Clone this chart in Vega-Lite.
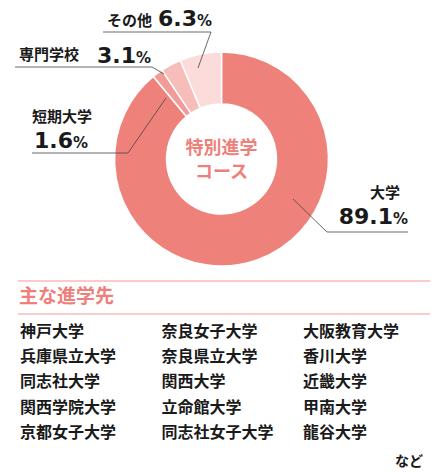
{
  "$schema": "https://vega.github.io/schema/vega-lite/v6.json",
  "width": 442,
  "height": 472,
  "padding": 0,
  "autosize": {"type": "none"},
  "background": "white",
  "config": {"view": {"stroke": null}, "font": "Noto Sans CJK JP"},
  "datasets": {
    "slices": [
      {"cat": "大学", "pct": 89.1},
      {"cat": "短期大学", "pct": 1.6},
      {"cat": "専門学校", "pct": 3.1},
      {"cat": "その他", "pct": 6.3}
    ],
    "schools": [
      {"name": "神戸大学", "col": 0, "row": 0},
      {"name": "兵庫県立大学", "col": 0, "row": 1},
      {"name": "同志社大学", "col": 0, "row": 2},
      {"name": "関西学院大学", "col": 0, "row": 3},
      {"name": "京都女子大学", "col": 0, "row": 4},
      {"name": "奈良女子大学", "col": 1, "row": 0},
      {"name": "奈良県立大学", "col": 1, "row": 1},
      {"name": "関西大学", "col": 1, "row": 2},
      {"name": "立命館大学", "col": 1, "row": 3},
      {"name": "同志社女子大学", "col": 1, "row": 4},
      {"name": "大阪教育大学", "col": 2, "row": 0},
      {"name": "香川大学", "col": 2, "row": 1},
      {"name": "近畿大学", "col": 2, "row": 2},
      {"name": "甲南大学", "col": 2, "row": 3},
      {"name": "龍谷大学", "col": 2, "row": 4}
    ]
  },
  "layer": [
    {
      "data": {"name": "slices"},
      "layer": [
        {
          "transform": [{"window": [{"op": "row_number", "as": "idx"}]}],
          "mark": {"type": "arc", "radius": 107, "innerRadius": 55, "stroke": "white", "strokeWidth": 1.5},
          "encoding": {
            "x": {"datum": 221.5, "type": "quantitative", "scale": {"domain": [0, 442], "nice": false, "zero": false}, "axis": null},
            "y": {"datum": 159, "type": "quantitative", "scale": {"domain": [0, 472], "nice": false, "zero": false, "reverse": true}, "axis": null},
            "theta": {"field": "pct", "type": "quantitative", "stack": true},
            "order": {"field": "idx", "type": "quantitative", "sort": "ascending"},
            "color": {
              "field": "cat", "type": "nominal",
              "scale": {"domain": ["大学", "短期大学", "専門学校", "その他"], "range": ["#ef817b", "#f29c98", "#f6bdbb", "#fbdcdb"]},
              "legend": null
            }
          }
        },
        {
          "data": {"values": [{}]},
          "mark": {"type": "text", "text": "特別進学", "align": "center", "baseline": "middle", "fontSize": 18, "fontWeight": "bold", "color": "#ef7f7a"},
          "encoding": {"x": {"datum": 221.5}, "y": {"datum": 149}}
        },
        {
          "data": {"values": [{}]},
          "mark": {"type": "text", "text": "コース", "align": "center", "baseline": "middle", "fontSize": 18, "fontWeight": "bold", "color": "#ef7f7a"},
          "encoding": {"x": {"datum": 221.5}, "y": {"datum": 173}}
        },
        {
          "transform": [{"filter": "datum.cat === '大学'"}],
          "layer": [
            {"mark": {"type": "text", "align": "center", "baseline": "middle", "fontSize": 15, "fontWeight": "bold", "color": "#1a1a1a"},
             "encoding": {"x": {"datum": 385}, "y": {"datum": 193}, "text": {"field": "cat"}}},
            {"mark": {"type": "text", "align": "right", "baseline": "alphabetic", "font": "DejaVu Sans", "fontSize": 22, "fontWeight": "bold", "color": "#1a1a1a"},
             "encoding": {"x": {"datum": 393}, "y": {"datum": 224}, "text": {"field": "pct", "type": "quantitative", "format": ".1f"}}},
            {"mark": {"type": "text", "text": "%", "align": "left", "baseline": "alphabetic", "font": "DejaVu Sans", "fontSize": 15, "fontWeight": "bold", "color": "#1a1a1a"},
             "encoding": {"x": {"datum": 393}, "y": {"datum": 224}}},
            {"mark": {"type": "rule", "color": "#444", "strokeWidth": 0.8},
             "encoding": {"x": {"datum": 327}, "x2": {"datum": 408}, "y": {"datum": 232}, "y2": {"datum": 232}}},
            {"mark": {"type": "rule", "color": "#444", "strokeWidth": 0.8},
             "encoding": {"x": {"datum": 293}, "x2": {"datum": 327}, "y": {"datum": 199}, "y2": {"datum": 232}}}
          ]
        },
        {
          "transform": [{"filter": "datum.cat === '短期大学'"}],
          "layer": [
            {"mark": {"type": "text", "align": "left", "baseline": "middle", "fontSize": 15, "fontWeight": "bold", "color": "#1a1a1a"},
             "encoding": {"x": {"datum": 32}, "y": {"datum": 117}, "text": {"field": "cat"}}},
            {"mark": {"type": "text", "align": "right", "baseline": "alphabetic", "font": "DejaVu Sans", "fontSize": 22, "fontWeight": "bold", "color": "#1a1a1a"},
             "encoding": {"x": {"datum": 73}, "y": {"datum": 148}, "text": {"field": "pct", "type": "quantitative", "format": ".1f"}}},
            {"mark": {"type": "text", "text": "%", "align": "left", "baseline": "alphabetic", "font": "DejaVu Sans", "fontSize": 15, "fontWeight": "bold", "color": "#1a1a1a"},
             "encoding": {"x": {"datum": 73}, "y": {"datum": 148}}},
            {"mark": {"type": "rule", "color": "#444", "strokeWidth": 0.8},
             "encoding": {"x": {"datum": 32}, "x2": {"datum": 128}, "y": {"datum": 153}, "y2": {"datum": 153}}},
            {"mark": {"type": "rule", "color": "#444", "strokeWidth": 0.8},
             "encoding": {"x": {"datum": 128}, "x2": {"datum": 166}, "y": {"datum": 153}, "y2": {"datum": 98}}}
          ]
        },
        {
          "transform": [{"filter": "datum.cat === '専門学校'"}],
          "layer": [
            {"mark": {"type": "text", "align": "left", "baseline": "middle", "fontSize": 15, "fontWeight": "bold", "color": "#1a1a1a"},
             "encoding": {"x": {"datum": 19}, "y": {"datum": 55}, "text": {"field": "cat"}}},
            {"mark": {"type": "text", "align": "right", "baseline": "alphabetic", "font": "DejaVu Sans", "fontSize": 22, "fontWeight": "bold", "color": "#1a1a1a"},
             "encoding": {"x": {"datum": 136}, "y": {"datum": 63}, "text": {"field": "pct", "type": "quantitative", "format": ".1f"}}},
            {"mark": {"type": "text", "text": "%", "align": "left", "baseline": "alphabetic", "font": "DejaVu Sans", "fontSize": 15, "fontWeight": "bold", "color": "#1a1a1a"},
             "encoding": {"x": {"datum": 136}, "y": {"datum": 63}}},
            {"mark": {"type": "rule", "color": "#444", "strokeWidth": 0.8},
             "encoding": {"x": {"datum": 15}, "x2": {"datum": 152}, "y": {"datum": 67}, "y2": {"datum": 67}}},
            {"mark": {"type": "rule", "color": "#444", "strokeWidth": 0.8},
             "encoding": {"x": {"datum": 152}, "x2": {"datum": 164}, "y": {"datum": 67}, "y2": {"datum": 74}}}
          ]
        },
        {
          "transform": [{"filter": "datum.cat === 'その他'"}],
          "layer": [
            {"mark": {"type": "text", "align": "left", "baseline": "middle", "fontSize": 15, "fontWeight": "bold", "color": "#1a1a1a"},
             "encoding": {"x": {"datum": 107}, "y": {"datum": 21}, "text": {"field": "cat"}}},
            {"mark": {"type": "text", "align": "right", "baseline": "alphabetic", "font": "DejaVu Sans", "fontSize": 22, "fontWeight": "bold", "color": "#1a1a1a"},
             "encoding": {"x": {"datum": 197}, "y": {"datum": 26}, "text": {"field": "pct", "type": "quantitative", "format": ".1f"}}},
            {"mark": {"type": "text", "text": "%", "align": "left", "baseline": "alphabetic", "font": "DejaVu Sans", "fontSize": 15, "fontWeight": "bold", "color": "#1a1a1a"},
             "encoding": {"x": {"datum": 197}, "y": {"datum": 26}}},
            {"mark": {"type": "rule", "color": "#444", "strokeWidth": 0.8},
             "encoding": {"x": {"datum": 103}, "x2": {"datum": 211}, "y": {"datum": 32}, "y2": {"datum": 32}}},
            {"mark": {"type": "rule", "color": "#444", "strokeWidth": 0.8},
             "encoding": {"x": {"datum": 211}, "x2": {"datum": 198}, "y": {"datum": 32}, "y2": {"datum": 68}}}
          ]
        },
        {
          "data": {"values": [{}]},
          "mark": {"type": "rule", "color": "#f39a95", "strokeWidth": 1.2},
          "encoding": {"x": {"datum": 18}, "x2": {"datum": 430}, "y": {"datum": 281}, "y2": {"datum": 281}}
        },
        {
          "data": {"values": [{}]},
          "mark": {"type": "rule", "color": "#f39a95", "strokeWidth": 1.2},
          "encoding": {"x": {"datum": 18}, "x2": {"datum": 430}, "y": {"datum": 314}, "y2": {"datum": 314}}
        },
        {
          "data": {"values": [{}]},
          "mark": {"type": "text", "text": "主な進学先", "align": "left", "baseline": "middle", "fontSize": 19, "fontWeight": "bold", "color": "#ef7f7a"},
          "encoding": {"x": {"datum": 19}, "y": {"datum": 297}}
        },
        {
          "data": {"values": [{}]},
          "mark": {"type": "text", "text": "など", "align": "right", "baseline": "middle", "fontSize": 14, "fontWeight": "bold", "color": "#1a1a1a"},
          "encoding": {"x": {"datum": 423}, "y": {"datum": 462}}
        }
      ]
    },
    {
      "data": {"name": "schools"},
      "mark": {"type": "text", "align": "left", "baseline": "middle", "fontSize": 16, "fontWeight": "bold", "color": "#1a1a1a"},
      "encoding": {
        "x": {"field": "col", "type": "quantitative", "scale": {"domain": [-0.1413, 2.9823], "nice": false, "zero": false}, "axis": null},
        "y": {"field": "row", "type": "quantitative", "scale": {"domain": [-13.175, 5.556], "nice": false, "zero": false, "reverse": true}, "axis": null},
        "text": {"field": "name"}
      }
    }
  ],
  "resolve": {"scale": {"x": "independent", "y": "independent", "color": "independent"}}
}
